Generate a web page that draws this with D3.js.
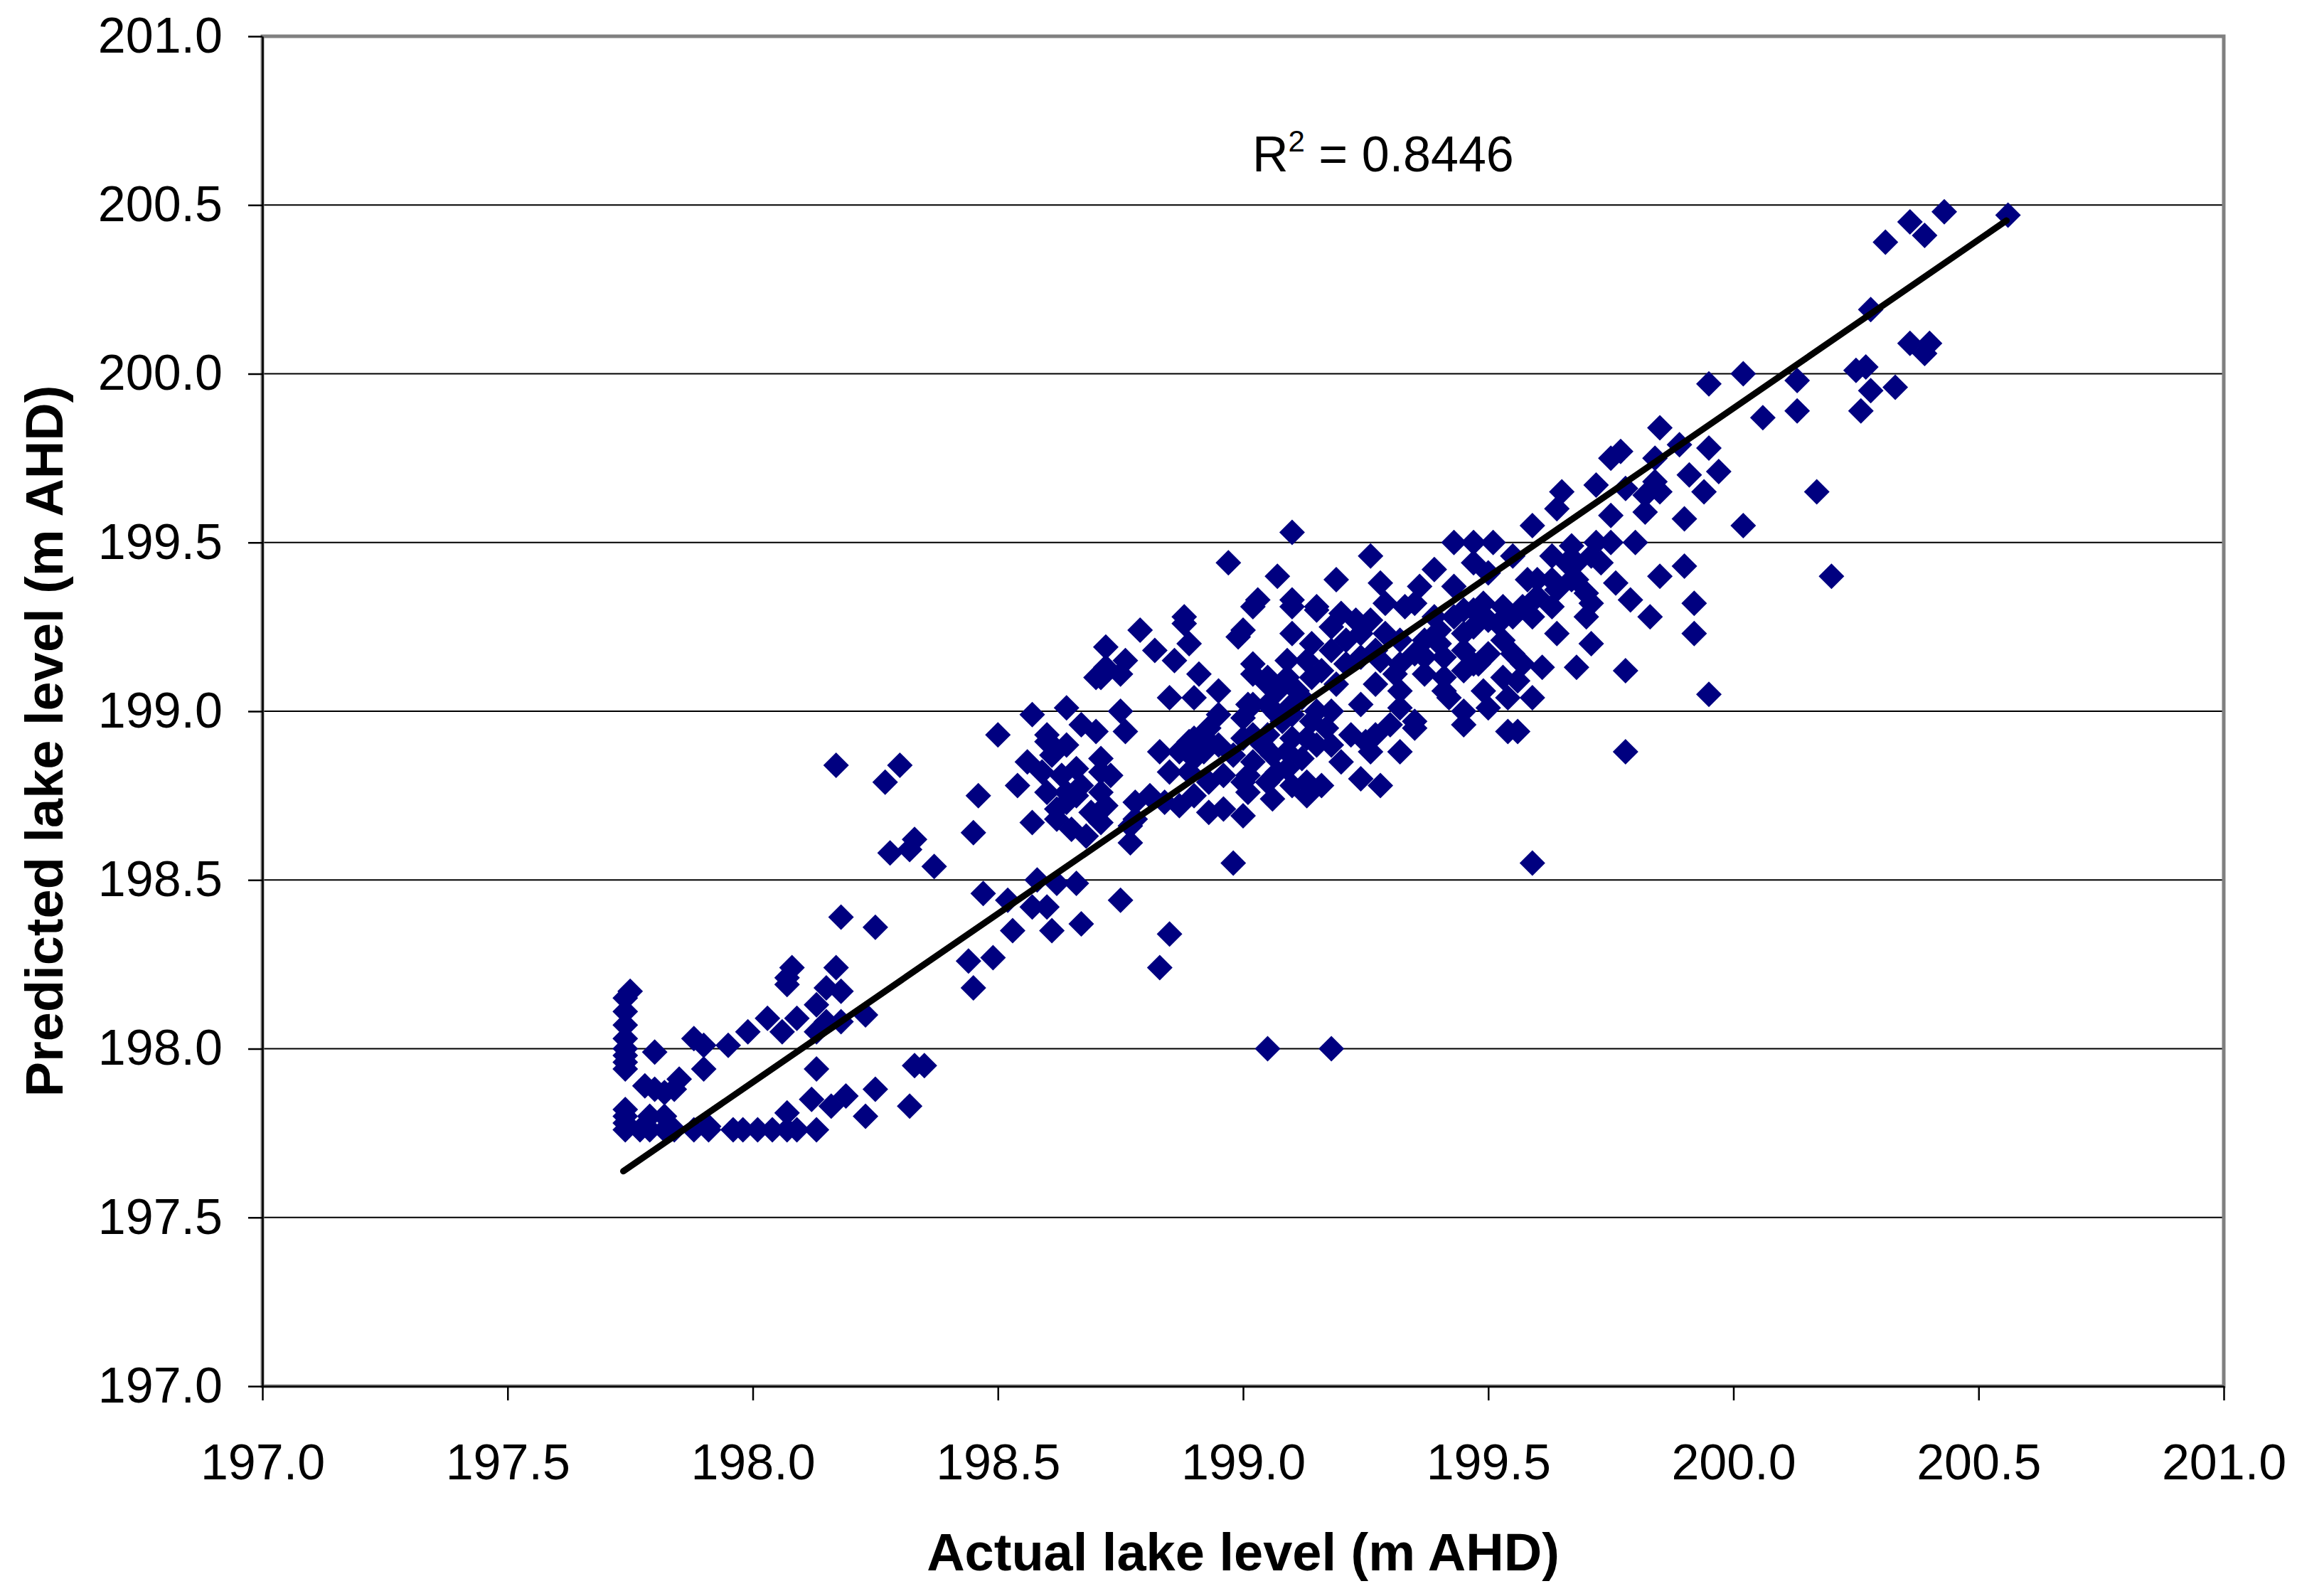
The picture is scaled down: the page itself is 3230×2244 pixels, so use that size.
<!DOCTYPE html>
<html><head><meta charset="utf-8">
<script src="https://cdn.jsdelivr.net/npm/d3@7"></script>
<style>html,body{margin:0;padding:0;background:#fff}</style>
</head><body>
<svg id="chart" width="3230" height="2244"></svg>
<script>
// Actual lake level (m AHD)
const actualLevel = [
197.75,197.74,197.74,197.74,197.74,197.74,197.74,197.74,197.74,197.74,
197.74,197.74,197.74,197.80,197.88,197.90,197.90,197.95,197.99,198.03,
198.06,198.09,198.08,198.07,198.07,198.17,198.15,198.18,198.13,198.15,
198.18,198.23,198.13,197.78,197.80,197.82,197.84,197.85,197.77,197.79,
197.82,197.84,197.88,197.91,197.96,197.98,198.01,198.04,198.07,198.09,
198.13,197.79,197.82,197.91,198.07,198.12,198.13,198.19,198.16,198.25,
198.23,198.33,198.35,198.32,198.18,198.25,198.44,198.49,198.45,
198.17,198.30,198.27,198.33,198.28,198.32,198.85,198.83,199.05,199.18,
198.61,198.67,198.53,198.57,198.60,
199.02,199.10,199.15,198.88,198.79,198.89,199.00,198.99,199.10,198.72,
198.76,198.82,198.86,198.72,198.75,198.70,198.71,198.91,198.95,198.85,
198.90,199.02,199.09,199.14,199.16,199.07,199.11,199.14,198.57,198.64,
198.75,198.95,199.01,199.05,198.50,198.67,198.70,198.76,198.60,198.61,
198.83,198.89,198.93,198.93,199.00,199.10,199.14,198.56,198.61,198.66,
198.71,198.73,198.85,198.90,198.95,198.98,198.54,198.46,198.60,198.64,
198.67,198.71,198.72,198.64,198.89,198.96,199.02,199.06,199.09,199.12,
199.15,198.78,198.81,198.84,198.87,198.90,198.57,198.62,198.65,198.68,
198.71,198.78,198.77,198.93,198.96,199.00,199.01,199.06,199.13,199.16,
198.45,198.77,198.98,198.37,198.58,198.62,198.66,198.47,198.52,198.75,
199.05,199.10,199.02,199.08,199.13,199.05,199.00,199.10,199.05,
199.02,199.05,199.09,199.13,199.02,199.07,199.12,199.15,199.00,199.04,
199.09,199.13,199.01,199.07,199.10,198.92,198.93,198.90,198.87,
198.59,198.63,198.66,198.69,198.71,198.62,198.60,198.64,
199.30,199.35,199.45,199.54,199.56,199.78,199.20,199.26,199.32,199.24,
199.28,199.59,199.17,199.22,199.25,199.18,199.27,
199.10,198.97,199.07,199.03,199.10,199.15,198.88,
199.85,199.77,199.75,199.84,199.89,199.95,199.91,199.97,199.94,199.72,
199.78,199.84,199.82,199.85,199.65,199.64,199.75,199.82,199.90,199.59,
199.26,199.43,199.47,199.51,199.55,199.47,199.67,199.72,199.75,199.80,
199.63,199.68,199.73,199.19,199.39,199.28,199.36,199.43,199.50,199.58,
199.60,199.64,199.70,199.76,199.79,199.85,199.90,199.92,199.29,199.20,
199.23,199.26,199.33,199.35,199.39,199.43,199.47,199.49,199.57,199.59,
199.64,199.70,199.83,199.92,199.18,199.24,199.28,199.35,199.40,199.45,
199.47,199.53,199.55,199.61,199.68,199.71,199.78,199.95,199.19,199.27,
199.32,199.37,199.41,199.45,199.49,199.53,199.56,199.59,199.42,199.32,
199.24,199.18,199.45,199.35,199.50,199.48,199.41,199.29,199.21,199.32,
199.37,199.50,199.45,199.53,199.63,199.68,199.66,199.71,
199.21,199.27,199.31,199.37,199.41,199.47,199.50,199.54,199.57,199.18,
199.24,199.32,199.40,199.45,199.52,199.55,199.60,199.63,199.67,199.71,
200.43,200.36,200.39,200.31,200.56,200.28,200.36,200.40,200.39,200.27,
200.25,200.28,200.33,200.26,200.02,200.13,200.13,200.06,199.95,200.17,
200.02,200.20
];
// Predicted lake level (m AHD)
const predictedLevel = [
198.17,198.15,198.11,198.07,198.03,198.00,197.98,197.96,197.94,197.82,
197.80,197.78,197.76,197.99,198.03,198.01,197.94,198.01,198.05,198.09,
198.05,198.09,198.24,198.21,198.19,198.24,198.18,198.17,198.13,198.08,
198.08,198.10,198.05,197.89,197.88,197.87,197.88,197.91,197.76,197.76,
197.76,197.76,197.76,197.76,197.76,197.76,197.76,197.76,197.76,197.76,
197.76,197.80,197.80,197.77,197.81,197.85,197.94,197.86,197.83,197.88,
197.80,197.95,197.95,197.83,198.39,198.36,198.26,198.27,198.18,
198.84,198.84,198.79,198.62,198.58,198.59,198.34,198.24,198.00,198.00,
198.35,198.37,198.35,198.42,198.42,
199.31,199.31,199.30,199.26,199.24,199.20,199.24,199.22,199.23,199.19,
199.15,199.18,199.15,199.13,199.11,199.10,199.10,199.11,199.06,199.04,
199.04,199.11,199.15,199.20,199.12,199.06,199.06,199.10,198.99,199.01,
199.00,198.99,199.02,199.02,198.93,198.96,198.94,198.94,198.93,198.90,
198.88,198.91,198.91,198.95,198.98,198.99,198.97,198.85,198.87,198.83,
198.86,198.81,198.82,198.86,198.90,198.87,198.78,198.75,198.76,198.76,
198.78,198.76,198.72,198.73,198.82,198.81,198.85,198.87,198.83,198.86,
198.90,198.73,198.75,198.73,198.72,198.75,198.67,198.68,198.65,198.63,
198.67,198.68,198.66,198.70,198.71,198.69,198.76,198.74,198.75,198.78,
198.64,198.61,198.55,198.54,198.50,198.49,198.49,198.46,198.44,198.44,
198.93,198.92,198.93,198.97,198.79,198.79,198.79,199.02,199.10,
199.14,199.08,199.10,199.15,199.02,198.99,199.04,199.00,198.92,198.90,
198.88,198.92,198.81,198.82,198.78,198.88,198.79,198.92,198.88,
198.82,198.81,198.75,198.70,198.82,198.71,198.91,198.90,
198.96,198.95,198.96,198.94,198.94,198.88,198.85,198.88,198.88,198.80,
198.78,198.55,198.95,198.93,198.91,198.90,198.93,
199.53,199.44,199.40,199.33,199.33,199.31,199.28,
199.84,199.77,199.75,199.75,199.79,199.78,199.70,199.71,199.65,199.67,
199.66,199.68,199.64,199.65,199.65,199.60,199.58,199.59,199.57,199.55,
199.46,199.50,199.50,199.50,199.46,199.44,199.49,199.50,199.50,199.50,
199.46,199.44,199.44,199.39,199.42,199.38,199.37,199.37,199.41,199.39,
199.39,199.36,199.35,199.38,199.33,199.40,199.43,199.32,199.32,199.29,
199.27,199.27,199.31,199.32,199.28,199.28,199.30,199.32,199.31,199.28,
199.23,199.28,199.28,199.23,199.18,199.16,199.15,199.17,199.20,199.23,
199.25,199.21,199.17,199.13,199.13,199.20,199.12,199.05,199.08,199.08,
199.06,199.11,199.10,199.12,199.06,199.10,199.09,199.04,199.04,199.01,
199.02,199.00,199.00,198.97,199.17,199.14,199.16,199.23,199.21,199.14,
199.21,199.27,199.30,199.31,199.39,199.39,199.44,199.46,
199.14,199.18,199.11,199.16,199.06,199.14,199.01,199.04,199.14,199.25,
199.23,199.21,199.24,199.18,199.26,199.28,199.34,199.31,199.39,199.32,
200.48,200.45,200.41,200.39,200.47,200.19,200.09,200.09,200.06,200.02,
200.01,199.95,199.96,199.89,200.00,199.98,199.89,199.87,199.97,199.65,
199.55,199.40
];
// Linear trendline end points (actual, predicted)
const trendActual = [197.736, 200.557];
const trendPredicted = [197.637, 200.454];
const r2Value = "0.8446";
const xTicks = [197.0, 197.5, 198.0, 198.5, 199.0, 199.5, 200.0, 200.5, 201.0];
const yTicks = [197.0, 197.5, 198.0, 198.5, 199.0, 199.5, 200.0, 200.5, 201.0];
const xTitle = "Actual lake level (m AHD)";
const yTitle = "Predicted lake level (m AHD)";

const W = 3230, H = 2244;
const plot = {left: 369, right: 3127, top: 51, bottom: 1949};
const FONT = "'Liberation Sans', Arial, Helvetica, sans-serif";

const x = d3.scaleLinear().domain([197, 201]).range([plot.left, plot.right]);
const y = d3.scaleLinear().domain([197, 201]).range([plot.bottom, plot.top]);

const svg = d3.select('#chart');
svg.append('rect').attr('width', W).attr('height', H).attr('fill', '#fff');

// horizontal gridlines
svg.append('g').selectAll('line')
  .data(yTicks.filter(t => t > 197 && t < 201))
  .join('line')
  .attr('x1', plot.left).attr('x2', plot.right)
  .attr('y1', d => y(d)).attr('y2', d => y(d))
  .attr('stroke', '#000').attr('stroke-width', 2);

// plot area border
svg.append('rect')
  .attr('x', plot.left).attr('y', plot.top)
  .attr('width', plot.right - plot.left).attr('height', plot.bottom - plot.top)
  .attr('fill', 'none').attr('stroke', '#808080').attr('stroke-width', 5);

// axes
const fmt = d3.format('.1f');
const gx = svg.append('g').attr('transform', `translate(0,${plot.bottom})`)
  .call(d3.axisBottom(x).tickValues(xTicks).tickFormat(fmt).tickSizeInner(20).tickSizeOuter(0).tickPadding(61));
const gy = svg.append('g').attr('transform', `translate(${plot.left},0)`)
  .call(d3.axisLeft(y).tickValues(yTicks).tickFormat(fmt).tickSizeInner(20).tickSizeOuter(0).tickPadding(36));
[gx, gy].forEach(g => {
  g.select('.domain').attr('stroke', '#000').attr('stroke-width', 2.5);
  g.selectAll('.tick line').attr('stroke', '#000').attr('stroke-width', 2.5);
  g.selectAll('.tick text').attr('font-family', FONT).attr('font-size', 70).attr('fill', '#000');
});

// data markers (diamonds)
const data = actualLevel.map((a, i) => ({a, p: predictedLevel[i]})).filter(d => d.p !== undefined);
const r = 18;
const diamond = `M0,${-r}L${r},0L0,${r}L${-r},0Z`;
svg.append('g').selectAll('path')
  .data(data)
  .join('path')
  .attr('d', diamond)
  .attr('transform', d => `translate(${x(d.a)},${y(d.p)})`)
  .attr('fill', '#000080');

// trendline
const trend = trendActual.map((a, i) => [a, trendPredicted[i]]);
svg.append('path')
  .datum(trend)
  .attr('d', d3.line().x(d => x(d[0])).y(d => y(d[1])))
  .attr('stroke', '#000').attr('stroke-width', 9).attr('stroke-linecap', 'round').attr('fill', 'none');

// R² label
const rt = svg.append('text')
  .attr('x', 1761).attr('y', 241)
  .attr('font-family', FONT).attr('font-size', 70).attr('fill', '#000');
rt.append('tspan').text('R');
rt.append('tspan').attr('font-size', 42).attr('dy', -28).text('2');
rt.append('tspan').attr('dy', 28).text(' = ' + r2Value);

// axis titles
svg.append('text')
  .attr('x', (plot.left + plot.right) / 2).attr('y', 2208)
  .attr('text-anchor', 'middle')
  .attr('font-family', FONT).attr('font-weight', 'bold').attr('font-size', 74).attr('fill', '#000')
  .text(xTitle);
svg.append('text')
  .attr('transform', 'translate(88,1042) rotate(-90)')
  .attr('text-anchor', 'middle')
  .attr('font-family', FONT).attr('font-weight', 'bold').attr('font-size', 74).attr('fill', '#000')
  .text(yTitle);
</script>
</body></html>
